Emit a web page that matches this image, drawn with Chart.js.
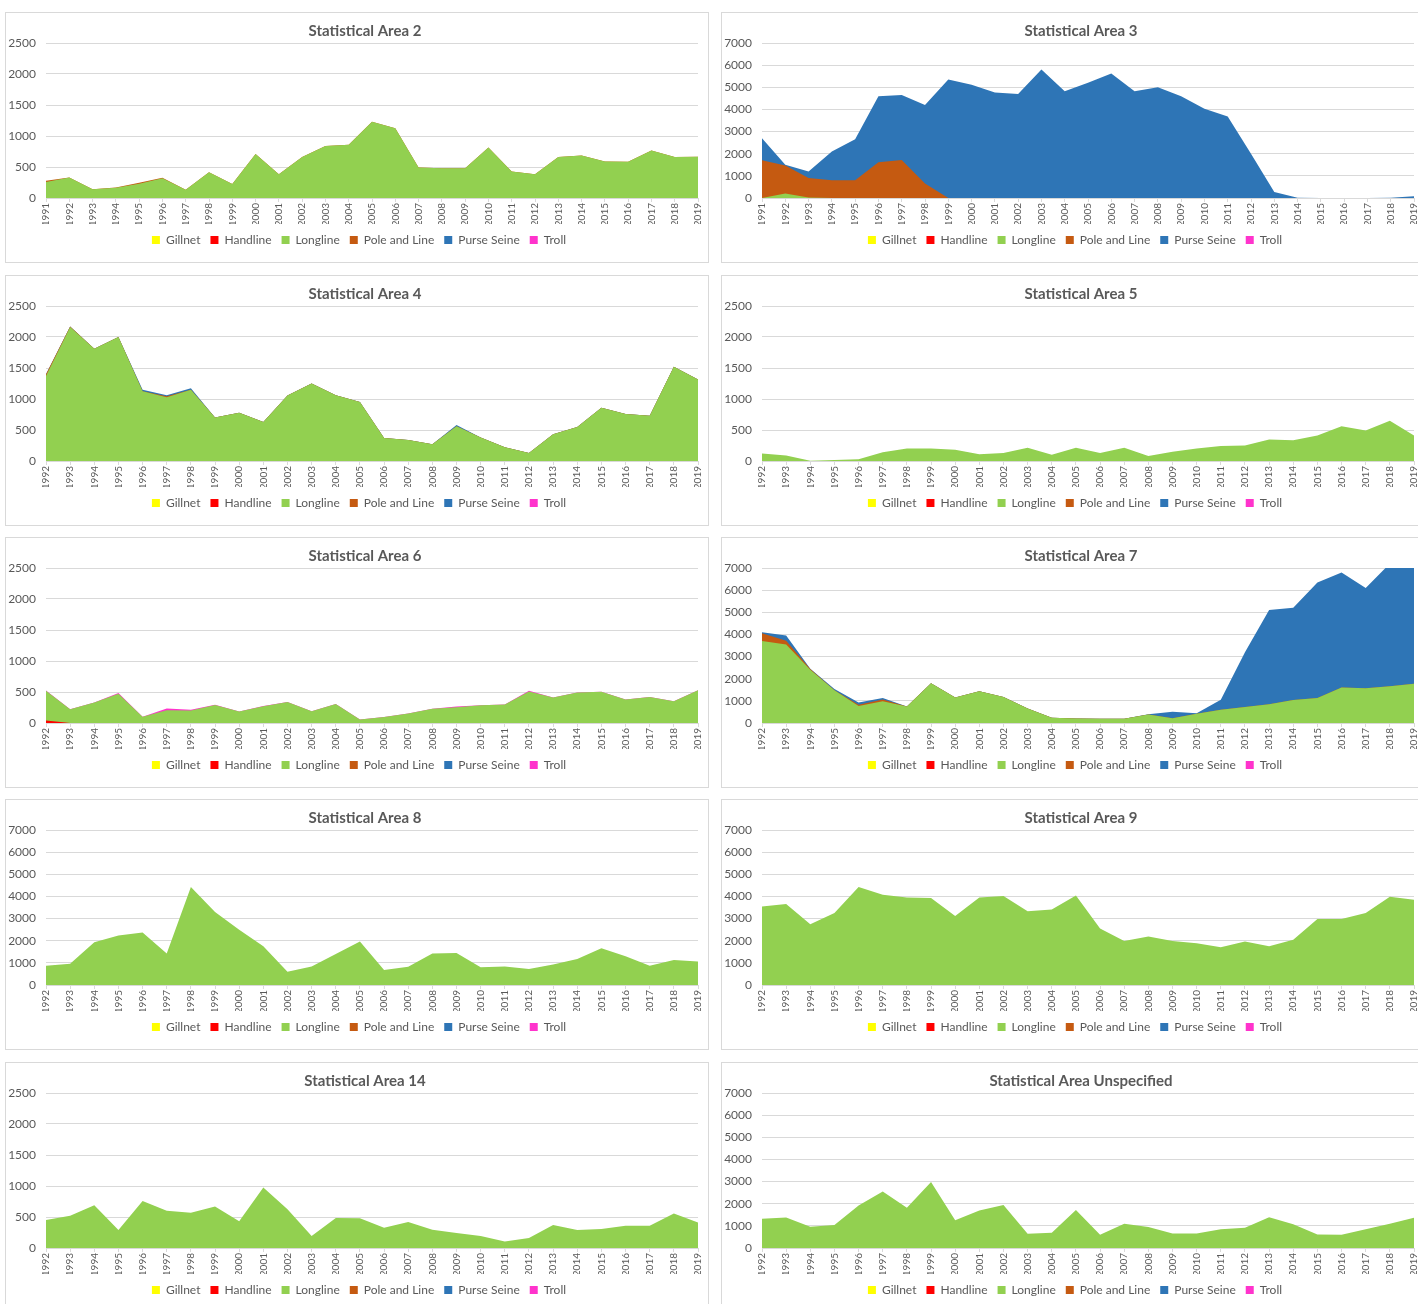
<!DOCTYPE html>
<html>
<head>
<meta charset="utf-8">
<title>Statistical Areas</title>
<script src="https://cdn.jsdelivr.net/npm/chart.js@4.4.0/dist/chart.umd.min.js"></script>
<style>
  html, body { margin: 0; padding: 0; background: #fff; }
  body { width: 1418px; height: 1304px; overflow: hidden; position: relative; }
  .panel { position: absolute; width: 702px; height: 249px; border: 1px solid #d9d9d9; background: #fff; }
  .panel canvas { display: block; }
</style>
</head>
<body>
<script>
// Years on the x axis
const years91 = ['1991','1992','1993','1994','1995','1996','1997','1998','1999','2000','2001','2002','2003','2004','2005','2006','2007','2008','2009','2010','2011','2012','2013','2014','2015','2016','2017','2018','2019'];
const years92 = ['1992','1993','1994','1995','1996','1997','1998','1999','2000','2001','2002','2003','2004','2005','2006','2007','2008','2009','2010','2011','2012','2013','2014','2015','2016','2017','2018','2019'];

// Y tick labels
const yTicksSmall = [0, 500, 1000, 1500, 2000, 2500];
const yTicksLarge = [0, 1000, 2000, 3000, 4000, 5000, 6000, 7000];

// Gears (stack order, bottom to top)
const gears = ['Gillnet', 'Handline', 'Longline', 'Pole and Line', 'Purse Seine', 'Troll'];
const gearColors = ['#FFFF00', '#FF0000', '#92D050', '#C55A11', '#2E75B6', '#FF33CC'];

// Statistical Area 2 (1991-2019)
const a2Longline = [260,330,140,165,230,320,135,415,227,708,384,660,838,860,1228,1125,492,481,481,816,427,384,660,687,590,584,768,660,665];
const a2PoleLine = [20,0,0,5,15,5,0,0,0,0,0,0,0,0,0,0,0,0,0,0,0,0,0,0,0,0,0,0,0];

// Statistical Area 3 (1991-2019)
const a3Longline = [0,200,20,0,0,0,0,0,0,0,0,0,0,0,0,0,0,0,0,0,0,0,0,0,0,0,0,0,0];
const a3PoleLine = [1700,1270,880,800,800,1620,1720,650,0,0,0,0,0,0,0,0,0,0,0,0,0,0,0,0,0,0,0,0,0];
const a3PurseSeine = [1000,30,300,1300,1850,2970,2930,3550,5350,5120,4770,4700,5800,4820,5200,5620,4820,5000,4590,4030,3680,2000,270,10,0,0,0,10,80];

// Statistical Area 4 (1992-2019)
const a4Longline = [1370,2160,1810,2000,1125,1030,1150,700,780,630,1055,1250,1060,950,370,340,270,560,380,220,130,430,550,860,760,730,1520,1315];
const a4PoleLine = [30,10,0,0,0,15,0,0,0,0,0,0,0,0,0,0,0,0,0,0,0,0,0,0,0,0,0,0];
const a4PurseSeine = [0,0,0,0,25,15,25,0,0,0,0,0,0,0,0,0,0,20,0,0,0,0,0,0,0,0,0,0];

// Statistical Area 5
const a5Longline = [120,90,5,15,30,140,200,200,180,110,130,215,100,215,130,215,80,150,200,240,250,345,335,410,560,490,650,410];

// Statistical Area 6
const a6Handline = [40,0,0,0,0,0,0,0,0,0,0,0,0,0,0,0,0,0,0,0,0,0,0,0,0,0,0,0];
const a6Longline = [480,220,330,470,100,205,200,290,185,270,340,190,305,55,95,155,230,255,285,300,510,410,490,505,380,420,350,530];
const a6Troll = [5,0,0,15,0,30,15,5,0,5,0,0,0,0,0,0,0,10,0,0,10,0,0,0,0,0,0,0];

// Statistical Area 7
const a7Longline = [3700,3550,2400,1480,770,980,740,1800,1150,1430,1170,650,240,200,190,190,380,220,420,600,720,850,1040,1130,1600,1570,1660,1770];
const a7PoleLine = [350,160,40,0,50,80,0,0,0,0,0,0,0,0,0,0,0,0,0,0,0,0,0,0,0,0,0,0];
const a7PurseSeine = [50,240,10,50,110,70,0,0,0,0,0,0,0,0,0,0,20,290,20,450,2480,4250,4160,5220,5200,4530,5540,5330];

// Statistical Area 8
const a8Longline = [870,960,1930,2230,2370,1420,4430,3300,2500,1750,600,830,1400,1960,680,820,1420,1440,800,830,720,930,1170,1660,1300,870,1130,1060];

// Statistical Area 9
const a9Longline = [3550,3660,2740,3250,4430,4080,3950,3930,3120,3950,4020,3330,3410,4040,2550,1990,2190,1990,1880,1700,1960,1750,2040,2980,2980,3250,3980,3850];

// Statistical Area 14
const a14Longline = [450,520,690,290,760,600,570,670,430,975,625,195,485,480,325,420,295,240,195,105,160,370,290,305,360,360,555,410];

// Statistical Area Unspecified
const aUnspLongline = [1320,1380,960,1040,1920,2550,1820,2980,1250,1690,1940,640,690,1720,600,1100,950,650,650,850,910,1390,1070,610,600,850,1090,1370];

// Panels: series in gear order (null = nothing caught)
const panels = [
    { title: 'Statistical Area 2', years: years91, yTicks: yTicksSmall, series: [null, null, a2Longline, a2PoleLine, null, null] },
    { title: 'Statistical Area 3', years: years91, yTicks: yTicksLarge, series: [null, null, a3Longline, a3PoleLine, a3PurseSeine, null] },
    { title: 'Statistical Area 4', years: years92, yTicks: yTicksSmall, series: [null, null, a4Longline, a4PoleLine, a4PurseSeine, null] },
    { title: 'Statistical Area 5', years: years92, yTicks: yTicksSmall, series: [null, null, a5Longline, null, null, null] },
    { title: 'Statistical Area 6', years: years92, yTicks: yTicksSmall, series: [null, a6Handline, a6Longline, null, null, a6Troll] },
    { title: 'Statistical Area 7', years: years92, yTicks: yTicksLarge, series: [null, null, a7Longline, a7PoleLine, a7PurseSeine, null] },
    { title: 'Statistical Area 8', years: years92, yTicks: yTicksLarge, series: [null, null, a8Longline, null, null, null] },
    { title: 'Statistical Area 9', years: years92, yTicks: yTicksLarge, series: [null, null, a9Longline, null, null, null] },
    { title: 'Statistical Area 14', years: years92, yTicks: yTicksSmall, series: [null, null, a14Longline, null, null, null] },
    { title: 'Statistical Area Unspecified', years: years92, yTicks: yTicksLarge, series: [null, null, aUnspLongline, null, null, null] }
];

const rowTops = [12, 275, 537, 799, 1062];
const colLefts = [5, 721];
const textGrey = '#595959';
const gridGrey = '#d9d9d9';

Chart.defaults.font.family = 'Lato, "Open Sans", sans-serif';
Chart.defaults.color = textGrey;

// Le titre et la légende d'Excel sont un peu décalés vers la droite
const shiftBlocks = {
    id: 'shiftBlocks',
    afterLayout(chart) {
        if (chart.titleBlock) { chart.titleBlock.left += 13; chart.titleBlock.right += 13; }
        if (chart.legend) { chart.legend.left += 7; chart.legend.right += 7; }
    }
};

panels.forEach((p, i) => {
    const div = document.createElement('div');
    div.className = 'panel';
    div.style.left = colLefts[i % 2] + 'px';
    div.style.top = rowTops[Math.floor(i / 2)] + 'px';
    const canvas = document.createElement('canvas');
    canvas.width = 702;
    canvas.height = 249;
    div.appendChild(canvas);
    document.body.appendChild(div);

    const datasets = gears.map((g, k) => ({
        label: g,
        data: p.series[k] || [],
        backgroundColor: gearColors[k],
        borderColor: 'transparent',
        borderWidth: 0,
        pointRadius: 0,
        pointHoverRadius: 0,
        tension: 0,
        fill: 'origin'
    }));

    new Chart(canvas.getContext('2d'), {
        type: 'line',
        data: { labels: p.years, datasets: datasets },
        plugins: [shiftBlocks],
        options: {
            responsive: false,
            animation: false,
            layout: { padding: { left: 0, right: 10, top: 0, bottom: 6 } },
            scales: {
                x: {
                    offset: false,
                    grid: { drawOnChartArea: false, drawTicks: true, tickLength: 4, color: gridGrey },
                    border: { color: gridGrey },
                    ticks: { autoSkip: false, maxRotation: 90, minRotation: 90, padding: 1, font: { size: 10 }, color: textGrey },
                    afterFit: (scale) => {
                        scale.height = 26;
                        scale.paddingRight = 0;
                        scale.paddingLeft = 0;
                    }
                },
                y: {
                    stacked: true,
                    min: 0,
                    max: p.yTicks[p.yTicks.length - 1],
                    ticks: {
                        stepSize: p.yTicks[1] - p.yTicks[0],
                        padding: 10,
                        font: { size: 12 },
                        color: textGrey,
                        callback: (value) => String(value)
                    },
                    grid: { color: gridGrey, drawTicks: false },
                    border: { display: false },
                    afterFit: (scale) => { scale.width = 40; }
                }
            },
            plugins: {
                title: {
                    display: true,
                    text: p.title,
                    color: textGrey,
                    font: { size: 15, weight: 'bold' },
                    padding: { top: 9, bottom: 3 }
                },
                legend: {
                    position: 'bottom',
                    labels: { boxWidth: 8, boxHeight: 8, padding: 10, font: { size: 12 }, color: textGrey }
                },
                tooltip: { enabled: false }
            }
        }
    });
});
</script>
</body>
</html>
